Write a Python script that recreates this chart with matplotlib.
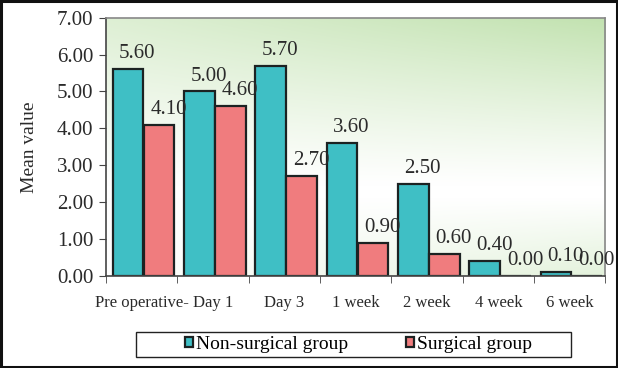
import numpy as np
import matplotlib
matplotlib.use("Agg")
import matplotlib.pyplot as plt
from matplotlib.patches import Rectangle
from matplotlib.colors import to_rgb

categories = ["Pre operative-", "Day 1", "Day 3", "1 week", "2 week", "4 week", "6 week"]
non_surgical = [5.60, 5.00, 5.70, 3.60, 2.50, 0.40, 0.10]
surgical = [4.10, 4.60, 2.70, 0.90, 0.60, 0.00, 0.00]
series_names = ["Non-surgical group", "Surgical group"]
y_ticks = [0, 1, 2, 3, 4, 5, 6, 7]

plt.rcParams['font.family'] = ['Liberation Serif', 'DejaVu Serif']

fig = plt.figure(figsize=(6.18, 3.68), dpi=100)
ax = fig.add_axes([0.1715, 0.25, 0.808, 0.702])

teal = "#3fbfc5"
pink = "#f07c7e"
edge = "#1c2222"
txt = "#2a2a2a"

# gradient background
nx, ny = 200, 200
xs = np.linspace(0, 1, nx)
ys = np.linspace(0, 1, ny)
X, Y = np.meshgrid(xs, ys)
top = np.clip((Y - 0.35) / 0.65, 0, 1) ** 1.1
bot = np.clip((0.3 - Y) / 0.3, 0, 1) * 0.45
s = (top * (0.55 + 0.45 * X) + bot * X)
s = np.clip(s, 0, 1)
green = np.array(to_rgb("#c2e2b0"))
white = np.array([1, 1, 1])
img = white[None, None, :] * (1 - s[..., None]) + green[None, None, :] * s[..., None]
ax.imshow(img, extent=[0, 1, 0, 1], transform=ax.transAxes, origin="lower",
          aspect="auto", zorder=0)

x = np.arange(len(categories))
w = 0.43
b1 = ax.bar(x - 0.19, non_surgical, w, color=teal, edgecolor=edge, linewidth=1.6,
            label=series_names[0], zorder=2)
b2 = ax.bar(x + 0.245, surgical, w, color=pink, edgecolor=edge, linewidth=1.6,
            label=series_names[1], zorder=2)

for xi, v in zip(x - 0.19, non_surgical):
    ax.text(xi + 0.13, v + 0.16, f"{v:.2f}", ha="center", va="bottom", fontsize=15,
            color=txt, zorder=3)
for xi, v in zip(x + 0.245, surgical):
    ax.text(xi + 0.13, v + 0.16, f"{v:.2f}", ha="center", va="bottom", fontsize=15,
            color=txt, zorder=3)

ax.set_xlim(-0.5, len(categories) - 0.5)
ax.set_ylim(0, 7)
ax.set_yticks(y_ticks)
ax.set_yticklabels([f"{t:.2f}" for t in y_ticks], fontsize=15, color=txt)
ax.set_xticks(x)
ax.set_xticklabels(categories, fontsize=12, color=txt)
ax.set_xticks(np.arange(-0.5, len(categories), 1), minor=True)
ax.tick_params(axis="x", which="major", length=0, pad=14)
ax.tick_params(axis="x", which="minor", length=5, direction="out", color="#444444")
ax.tick_params(axis="y", length=5, direction="out", color="#444444", pad=4)
ax.set_ylabel("Mean value", fontsize=14, color=txt, labelpad=14)

for sp in ["left", "bottom"]:
    ax.spines[sp].set_color("#444444")
    ax.spines[sp].set_linewidth(1.2)
for sp in ["top", "right"]:
    ax.spines[sp].set_color("#888888")
    ax.spines[sp].set_linewidth(1.2)

# legend box
fig.patches.append(Rectangle((0.22, 0.03), 0.704, 0.068, transform=fig.transFigure,
                             fill=False, edgecolor="#222222", linewidth=1.0))
leg = fig.legend(handles=[b1, b2], labels=series_names, loc="center",
                 bbox_to_anchor=(0.58, 0.064), ncol=2,
                 fontsize=14, frameon=False, handlelength=0.4,
                 handleheight=0.45, handletextpad=0.15, borderpad=0.1,
                 columnspacing=3.0)

fig.patches.append(Rectangle((0.002, 0.003), 0.996, 0.994, transform=fig.transFigure,
                             fill=False, edgecolor="#111111", linewidth=2.2))

fig.savefig("out.png", dpi=100)
